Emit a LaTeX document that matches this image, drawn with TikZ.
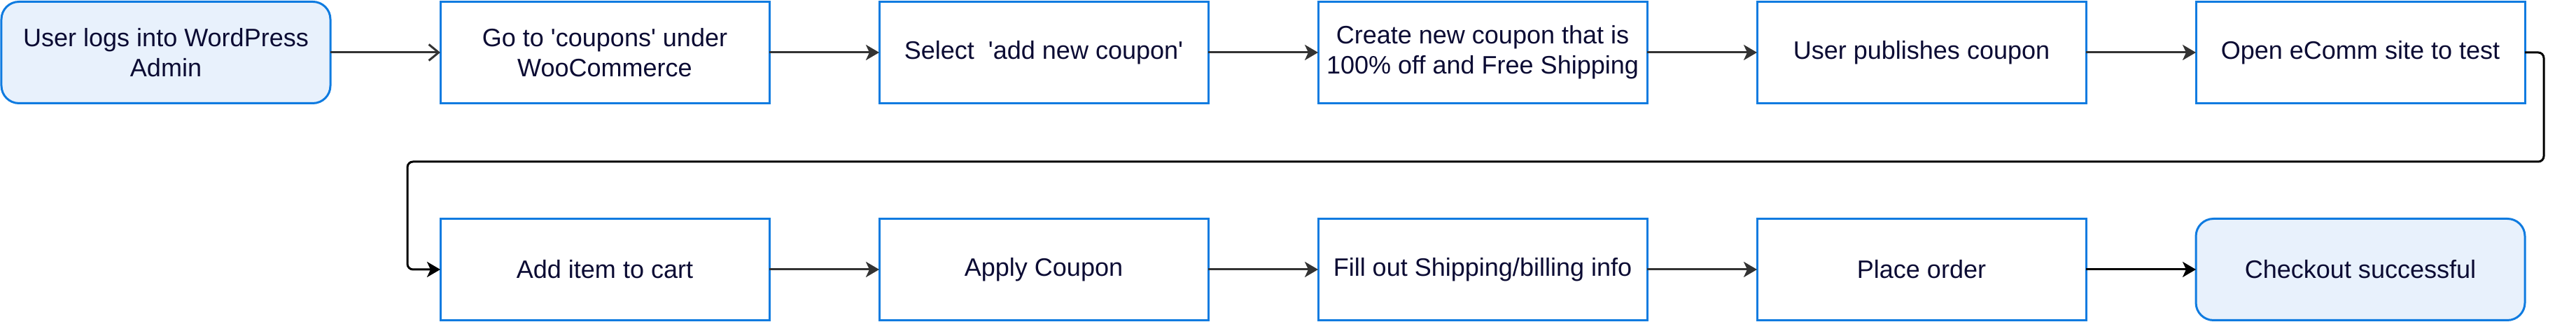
\documentclass[tikz,border=0pt]{standalone}
\usepackage{fontspec}
\setmainfont{Liberation Sans}
\usetikzlibrary{positioning,arrows.meta}
\definecolor{stepblue}{HTML}{0F7BE0}
\definecolor{endfill}{HTML}{E8F1FC}
\definecolor{stepink}{HTML}{0B0B33}
\definecolor{flowgray}{HTML}{333333}

\begin{document}
\begin{tikzpicture}[
  stepbox/.style={draw=stepblue,line width=0.03cm,minimum width=4.7cm,minimum height=1.45cm,
    inner sep=0pt,outer sep=0pt,align=center,text=stepink,font=\fontsize{10.25pt}{12.3pt}\selectfont},
  endbox/.style={stepbox,rounded corners=0.25cm,fill=endfill},
  flow/.style={draw=flowgray,line width=0.03cm,-{Stealth[length=0.19cm,width=0.22cm,inset=0.05cm]}},
  node distance=1.57cm and 1.57cm
]
  \useasboundingbox (0,0) rectangle (36.8,4.6);
  % first row
  \node[endbox] (login) at (2.37,3.85) {User logs into WordPress\\Admin};
  \node[stepbox,right=of login] (coupons) {Go to \textquotesingle coupons\textquotesingle\ under\\WooCommerce};
  \node[stepbox,right=of coupons] (addnew) {Select\ \ \textquotesingle add new coupon\textquotesingle};
  \node[stepbox,right=of addnew] (create) {Create new coupon that is\\100\% off and Free Shipping};
  \node[stepbox,right=of create] (publish) {User publishes coupon};
  \node[stepbox,right=of publish] (site) {Open eComm site to test};
  % second row
  \node[stepbox,below=1.65cm of coupons] (cart) {Add item to cart};
  \node[stepbox,right=of cart] (apply) {Apply Coupon};
  \node[stepbox,right=of apply] (billing) {Fill out Shipping/billing info};
  \node[stepbox,right=of billing] (order) {Place order};
  \node[endbox,right=of order] (checkout) {Checkout successful};

  \draw[draw=flowgray,line width=0.03cm,-{Straight Barb[length=0.14cm,width=0.23cm]}] (login) -- (coupons);
  \foreach \a/\b in {coupons/addnew,addnew/create,create/publish,publish/site,cart/apply,apply/billing,billing/order}
    \draw[flow] (\a) -- (\b);
  \draw[flow,draw=black] (order) -- (checkout);

  % back to the second row
  \coordinate (bend) at (5.82,2.29);
  \draw[flow,draw=black,rounded corners=0.08cm] (site.east) -- ++(0.27,0) |- (bend) |- (cart.west);
\end{tikzpicture}
\end{document}
